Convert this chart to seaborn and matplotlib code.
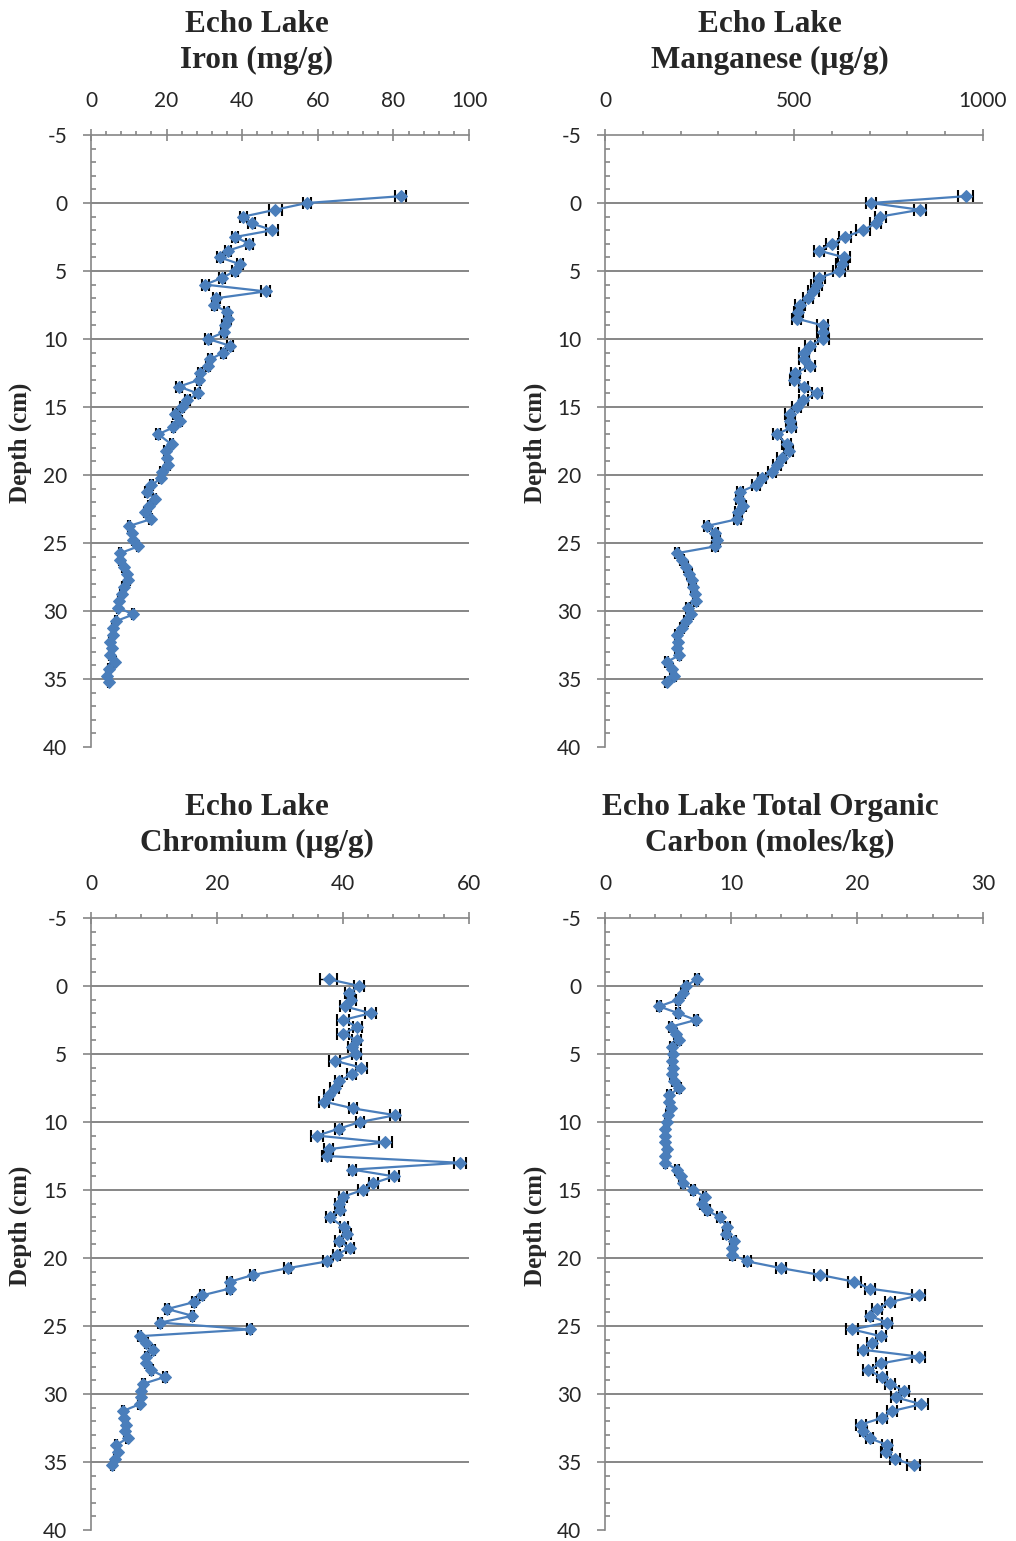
import pandas as pd
import matplotlib
matplotlib.use("Agg")
import matplotlib.pyplot as plt
import seaborn as sns
from matplotlib.ticker import MultipleLocator

# -----------------------------
# Data (Echo Lake)
# -----------------------------
depth_cm = [-0.5, 0.0, 0.5, 1.0, 1.5, 2.0, 2.5, 3.0, 3.5, 4.0, 4.5, 5.0,
            5.5, 6.0, 6.5, 7.0, 7.5, 8.0, 8.5, 9.0, 9.5, 10.0, 10.5, 11.0,
            11.5, 12.0, 12.5, 13.0, 13.5, 14.0, 14.5, 15.0, 15.5, 16.0, 16.5, 17.0,
            17.75, 18.25, 18.75, 19.25, 19.75, 20.25, 20.75, 21.25, 21.75, 22.25, 22.75, 23.25,
            23.75, 24.25, 24.75, 25.25, 25.75, 26.25, 26.75, 27.25, 27.75, 28.25, 28.75, 29.25,
            29.75, 30.25, 30.75, 31.25, 31.75, 32.25, 32.75, 33.25, 33.75, 34.25, 34.75, 35.25]

iron_mg_g = [81.9, 57.1, 48.7, 40.3, 42.5, 48.0, 38.1, 41.9, 36.3, 34.1, 39.4, 38.1,
             34.7, 30.2, 46.2, 33.2, 32.6, 35.9, 36.3, 35.4, 35.2, 31.0, 36.8, 35.0,
             31.5, 30.9, 28.8, 28.6, 23.3, 28.2, 25.5, 24.0, 22.2, 23.5, 21.8, 17.8,
             21.3, 19.8, 20.0, 20.3, 18.7, 18.4, 16.0, 14.7, 16.9, 15.4, 14.3, 15.8,
             10.1, 10.8, 11.2, 12.5, 7.7, 7.8, 8.6, 9.4, 9.9, 8.6, 8.1, 7.5,
             7.2, 11.2, 6.6, 5.9, 5.9, 5.0, 5.5, 5.0, 6.3, 4.8, 4.2, 4.8]
iron_err = [1.5, 1.0, 1.7, 0.9, 0.9, 1.6, 0.9, 0.9, 0.8, 0.8, 0.8, 0.8,
            0.8, 0.9, 1.2, 0.8, 0.7, 0.7, 0.7, 0.7, 0.7, 0.8, 0.8, 0.7,
            0.6, 0.6, 0.6, 0.6, 0.7, 0.6, 0.6, 0.5, 0.5, 0.5, 0.5, 0.5,
            0.5, 0.5, 0.5, 0.5, 0.4, 0.4, 0.4, 0.4, 0.4, 0.4, 0.4, 0.4,
            0.3, 0.3, 0.3, 0.3, 0.3, 0.3, 0.3, 0.3, 0.3, 0.3, 0.3, 0.3,
            0.3, 0.3, 0.3, 0.3, 0.3, 0.3, 0.3, 0.3, 0.3, 0.3, 0.3, 0.3]

manganese_ug_g = [954, 704, 833, 728, 716, 683, 635, 601, 566, 633, 626, 619,
                  567, 560, 551, 536, 516, 511, 507, 576, 576, 578, 542, 527,
                  527, 542, 503, 501, 526, 560, 524, 507, 489, 490, 493, 455,
                  481, 486, 468, 455, 442, 415, 399, 357, 355, 364, 353, 350,
                  269, 291, 295, 291, 190, 203, 214, 223, 229, 234, 238, 241,
                  220, 227, 214, 203, 191, 194, 190, 197, 163, 176, 183, 163]
manganese_err = [20, 14, 16, 15, 15, 18, 16, 16, 13, 16, 16, 16,
                 14, 14, 14, 13, 13, 12, 12, 14, 14, 14, 14, 13,
                 13, 13, 12, 12, 12, 13, 12, 12, 12, 12, 12, 11,
                 12, 12, 12, 11, 11, 10, 10, 9, 9, 9, 9, 9,
                 7, 8, 8, 8, 5, 5, 6, 6, 6, 6, 6, 6,
                 6, 6, 6, 5, 5, 5, 5, 5, 4, 5, 5, 4]

chromium_ug_g = [37.7, 42.6, 41.0, 41.3, 40.3, 44.4, 40.0, 42.3, 40.0, 42.2, 41.5, 42.1,
                 38.7, 42.9, 41.4, 39.3, 38.7, 37.7, 37.0, 41.6, 48.3, 42.7, 39.3, 35.9,
                 46.7, 37.7, 37.4, 58.6, 41.5, 48.1, 44.8, 43.1, 40.0, 39.4, 39.5, 37.9,
                 40.2, 40.6, 39.3, 41.1, 39.0, 37.5, 31.2, 25.7, 22.0, 22.0, 17.6, 16.3,
                 12.1, 16.1, 11.0, 25.2, 7.7, 8.8, 9.9, 8.8, 8.7, 9.6, 11.7, 8.3,
                 8.0, 7.9, 7.7, 5.1, 5.2, 5.6, 5.4, 5.8, 4.0, 4.3, 3.8, 3.4]
chromium_err = [1.4, 0.8, 0.7, 0.7, 0.8, 0.9, 0.9, 0.7, 1.0, 0.7, 0.7, 0.7,
                0.9, 0.9, 0.7, 0.6, 0.7, 0.7, 0.8, 0.6, 0.8, 0.6, 0.6, 1.0,
                1.0, 0.7, 0.7, 1.0, 0.6, 0.8, 0.7, 0.7, 0.6, 0.6, 0.6, 0.6,
                0.6, 0.6, 0.6, 0.7, 0.6, 0.6, 0.5, 0.4, 0.4, 0.4, 0.3, 0.3,
                0.3, 0.3, 0.3, 0.4, 0.2, 0.2, 0.2, 0.2, 0.2, 0.2, 0.3, 0.2,
                0.2, 0.2, 0.2, 0.2, 0.2, 0.2, 0.2, 0.2, 0.2, 0.2, 0.2, 0.2]

toc_mol_kg = [7.3, 6.4, 6.2, 5.8, 4.3, 5.8, 7.2, 5.2, 5.6, 5.9, 5.3, 5.4,
              5.3, 5.4, 5.3, 5.5, 5.9, 5.1, 5.1, 5.2, 5.0, 4.9, 4.8, 4.8,
              4.8, 4.9, 4.8, 4.8, 5.7, 6.0, 6.2, 7.0, 7.9, 7.7, 8.1, 9.1,
              9.7, 9.6, 10.2, 10.1, 10.1, 11.3, 14.0, 17.1, 19.8, 21.0, 24.9, 22.6,
              21.6, 21.0, 22.4, 19.6, 21.9, 21.2, 20.5, 24.9, 21.9, 20.9, 22.0, 22.6,
              23.7, 23.1, 25.1, 22.8, 22.0, 20.3, 20.5, 21.0, 22.4, 22.3, 23.0, 24.5]
toc_err = [0.15, 0.15, 0.15, 0.15, 0.15, 0.15, 0.15, 0.15, 0.15, 0.15, 0.15, 0.15,
           0.15, 0.15, 0.15, 0.15, 0.15, 0.15, 0.15, 0.15, 0.15, 0.15, 0.15, 0.15,
           0.15, 0.15, 0.15, 0.15, 0.15, 0.15, 0.15, 0.15, 0.15, 0.15, 0.2, 0.2,
           0.2, 0.2, 0.2, 0.2, 0.2, 0.3, 0.4, 0.5, 0.5, 0.4, 0.5, 0.4,
           0.4, 0.3, 0.4, 0.5, 0.4, 0.4, 0.4, 0.5, 0.4, 0.4, 0.4, 0.4,
           0.4, 0.4, 0.5, 0.4, 0.4, 0.4, 0.3, 0.3, 0.4, 0.4, 0.4, 0.5]

titles = [("Echo Lake", "Iron (mg/g)"),
          ("Echo Lake", "Manganese (\u00b5g/g)"),
          ("Echo Lake", "Chromium (\u00b5g/g)"),
          ("Echo Lake Total Organic", "Carbon (moles/kg)")]
x_max = [100, 1000, 60, 30]
x_major = [20, 500, 20, 10]

# -----------------------------
# Style
# -----------------------------
sns.set_style("white")
plt.rcParams["font.family"] = ["Lato", "DejaVu Sans"]
plt.rcParams["axes.unicode_minus"] = False

BLUE = "#4a7ebb"
GREY = "#868686"
SERIF = ["Liberation Serif", "DejaVu Serif"]

W, H = 1016, 1541
fig = plt.figure(figsize=(W / 100, H / 100), dpi=100)

# panel boxes in pixels: (left, top, right, bottom)
boxes = [(91, 135, 469, 747), (605, 135, 983, 747),
         (91, 918, 469, 1530), (605, 918, 983, 1530)]
title_cx = [257, 770, 257, 770]
series = [(iron_mg_g, iron_err), (manganese_ug_g, manganese_err),
          (chromium_ug_g, chromium_err), (toc_mol_kg, toc_err)]

for i, (vals, errs) in enumerate(series):
    l, t, r, b = boxes[i]
    ax = fig.add_axes([l / W, 1 - b / H, (r - l) / W, (b - t) / H])
    df = pd.DataFrame({"depth": depth_cm, "value": vals})

    ax.errorbar(vals, depth_cm, xerr=errs, fmt="none", ecolor="black",
                elinewidth=1.0, capsize=4.5, capthick=1.5, zorder=2)
    sns.lineplot(data=df, x="value", y="depth", sort=False, estimator=None,
                 color=BLUE, linewidth=1.6, marker="D", markersize=6.5,
                 markeredgecolor=BLUE, ax=ax, zorder=3)

    ax.set_xlim(0, x_max[i])
    ax.set_ylim(40, -5)
    ax.xaxis.tick_top()
    ax.xaxis.set_major_locator(MultipleLocator(x_major[i]))
    ax.xaxis.set_minor_locator(MultipleLocator(x_major[i] / 5))
    ax.yaxis.set_major_locator(MultipleLocator(5))
    ax.yaxis.set_minor_locator(MultipleLocator(1))
    ax.set_xlabel("")
    ax.set_ylabel("")

    for side in ["right", "bottom"]:
        ax.spines[side].set_visible(False)
    for side in ["top", "left"]:
        ax.spines[side].set_color(GREY)
        ax.spines[side].set_linewidth(1.2)

    # horizontal gridlines at the major depths, none at the 40 cm floor
    ax.grid(False)
    for yv in ax.get_yticks():
        if -5 < yv < 40:
            ax.axhline(yv, color=GREY, linewidth=1.4, zorder=1)

    ax.tick_params(axis="x", which="major", direction="inout", length=8,
                   width=1.2, color=GREY, pad=13, labelsize=15, top=True, bottom=False)
    ax.tick_params(axis="x", which="minor", direction="out", length=3,
                   width=1.2, color=GREY, top=True, bottom=False)
    ax.tick_params(axis="y", which="major", direction="out", length=6,
                   width=1.2, color=GREY, pad=11, labelsize=15, left=True)
    ax.tick_params(axis="y", which="minor", direction="in", length=3.5,
                   width=1.2, color=GREY, left=True)

    # chart titles, two lines each
    line1, line2 = titles[i]
    top_shift = 0 if i < 2 else 783
    fig.text(title_cx[i] / W, 1 - (31.7 + top_shift) / H, line1, ha="center",
             va="baseline", fontsize=22.5, fontweight="bold", family=SERIF)
    fig.text(title_cx[i] / W, 1 - (68 + top_shift) / H, line2, ha="center",
             va="baseline", fontsize=22.5, fontweight="bold", family=SERIF)

    # y axis title
    lab_x = 20 if i % 2 == 0 else 535
    lab_y = (t + b) / 2 + 2
    fig.text(lab_x / W, 1 - lab_y / H, "Depth (cm)", rotation=90, ha="center",
             va="center", fontsize=18, fontweight="bold", family=SERIF)

fig.savefig("out.png", dpi=100)
